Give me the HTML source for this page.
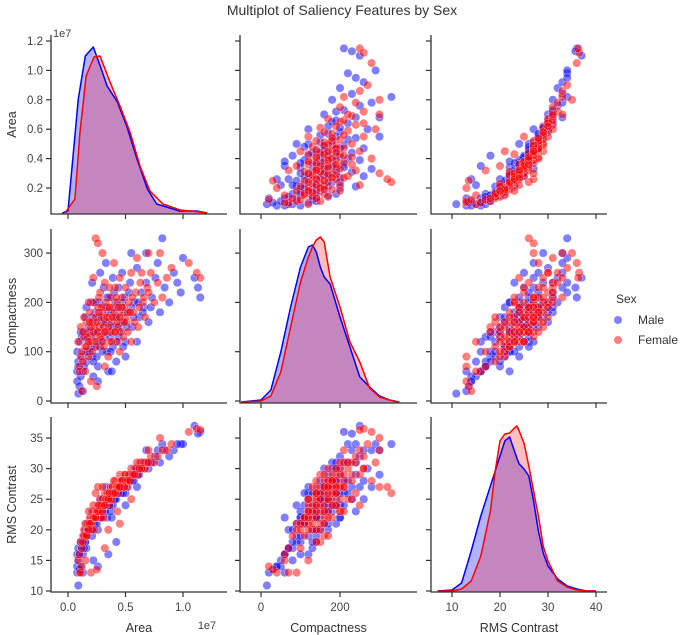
<!DOCTYPE html>
<html><head><meta charset="utf-8">
<style>
html,body{margin:0;padding:0;background:#fff;}
svg{display:block;font-family:"Liberation Sans",Arial,sans-serif;}
</style></head>
<body>
<svg id="chart" width="685" height="635" viewBox="0 0 685 635" xmlns="http://www.w3.org/2000/svg">
<text x="342" y="15" text-anchor="middle" font-size="14" fill="#333">Multiplot of Saliency Features by Sex</text>
<g id="panels"></g>
<g>
<text x="616" y="303" font-size="12" fill="#333">Sex</text>
<circle cx="618" cy="320" r="4" fill="rgba(0,0,255,0.5)"/>
<text x="638" y="324" font-size="12" fill="#333">Male</text>
<circle cx="618" cy="340" r="4" fill="rgba(255,0,0,0.5)"/>
<text x="638" y="344" font-size="12" fill="#333">Female</text>
</g>
</svg>
<script>
// ---- data: area (x1e6), compactness, rms contrast ----
const maleArea=[0.9,0.8,0.8,0.9,0.8,0.9,1.0,1.1,1.2,1.2,1.3,1.4,1.5,1.5,1.6,1.7,1.8,1.9,2.0,2.0,2.1,2.2,2.3,2.4,2.5,2.6,2.7,2.8,2.9,3.0,3.1,3.2,3.3,3.4,3.5,3.6,3.7,3.8,3.9,4.0,4.1,4.2,4.3,4.4,4.5,4.6,4.7,4.8,4.9,5.0,5.2,5.4,5.6,5.8,6.0,6.2,6.4,6.6,6.8,7.0,7.3,7.6,8.0,8.4,8.8,9.2,9.8,10.0,11.0,11.5,11.3,1.0,1.3,2.2,2.6,3.5,4.2,1.1,1.6,2.1,2.8,3.3,5.5,6.8,7.8,9.5,8.2,5.0,6.0,3.8];
const maleComp=[15,60,40,80,100,70,120,50,90,130,60,140,100,170,80,120,150,100,200,130,90,160,110,180,140,70,200,150,120,170,230,140,190,100,160,210,130,180,250,150,200,120,170,230,140,190,260,160,210,120,180,240,150,200,270,170,220,190,240,160,210,250,180,230,200,260,220,290,250,210,230,30,20,50,40,60,80,140,190,240,260,280,300,300,280,240,330,90,120,60];
const maleRms=[10.9,13,14,15,16,17,16,14,18,17,16,19,18,20,17,19,20,21,22,20,19,21,21,23,22,20,24,22,23,24,25,23,25,22,25,26,24,26,27,25,26,25,27,27,26,28,28,27,28,26,28,29,28,30,30,29,31,30,31,30,31,32,31,33,32,33,34,34,37,36,35.7,13.5,13,15,14,16,18,18,21,23,25,27,29,33,33,34,34,24,27,22];
const maleArea2=[2.0,2.3,2.6,2.9,3.2,3.5,3.8,4.1,4.4,4.7,2.1,2.5,3.0,3.4,3.9,4.2,4.6,5.1,5.5,6.1,1.7,1.9,2.4,2.7,3.1,3.6,4.0,4.8,5.3,6.5,1.5,2.2,2.8,3.3,3.7,4.3,4.9,5.7,7.2,1.4];
const maleComp2=[110,140,120,160,130,180,150,170,130,200,170,90,100,210,110,190,160,150,190,200,100,140,200,170,190,140,220,110,220,180,130,80,110,160,100,150,180,170,190,70];
const maleRms2=[21,22,22,23,23,24,25,25,26,27,21,21,22,24,24,26,26,27,28,29,19,20,22,23,24,24,26,26,28,30,18,20,22,24,23,26,27,28,31,17];
const femaleArea=[1.0,1.1,0.9,1.0,1.2,1.1,1.3,1.4,1.5,1.6,1.7,1.8,1.9,2.0,2.1,2.2,2.3,2.4,2.5,2.6,2.7,2.8,2.9,3.0,3.1,3.2,3.3,3.4,3.5,3.6,3.7,3.8,3.9,4.0,4.1,4.2,4.3,4.4,4.5,4.6,4.7,4.8,4.9,5.0,5.1,5.3,5.5,5.7,5.9,6.1,6.3,6.5,6.7,6.9,7.2,7.5,7.8,8.2,8.6,9.0,10.5,11.2,11.5,8.0,2.4,2.6,3.0,1.5,2.0,2.5,1.2,3.2,4.5,1.8,2.2,4.0,6.0,7.0,3.5,5.5,1.4,2.7,3.6,4.3,5.2,6.4,2.3,3.1,1.7,2.9];
const femaleComp=[70,90,120,60,100,150,80,130,110,160,140,90,180,120,160,200,130,170,110,190,150,220,130,180,160,240,140,190,170,120,210,160,190,140,230,170,200,150,250,180,210,130,190,230,160,200,260,180,220,150,240,200,170,230,260,200,240,210,250,270,280,260,250,300,330,320,300,60,40,30,20,70,100,200,250,280,290,300,90,120,170,210,230,120,180,260,150,110,130,170];
const femaleRms=[13,13,15,16,17,18,19,20,21,19,20,21,22,21,22,23,22,23,22,24,23,25,24,25,24,26,25,26,25,24,27,26,27,26,28,27,27,26,29,28,28,27,29,29,28,29,30,29,30,29,31,30,30,31,32,31,32,33,33,34,36,36.5,36.3,35,26,27,27,15,13,13.5,14,17,21,23,24,28,31,33,20,25,19,23,25,23,27,30,20,22,21,22];
const femaleArea2=[2.2,2.5,2.8,3.1,3.4,3.7,4.0,4.3,4.6,5.0,2.0,2.4,2.9,3.3,3.8,4.2,4.7,5.2,5.6,6.2,1.6,1.9,2.6,3.0,3.5,3.9,4.4,4.9,5.4,6.6,1.3,2.1,2.7,3.2,3.6,4.1,4.5,5.8,7.0,1.8];
const femaleComp2=[140,160,130,150,170,140,180,160,140,170,150,120,190,200,120,210,190,140,210,190,110,160,140,120,150,170,190,160,180,210,140,100,180,140,190,140,170,160,220,120];
const femaleRms2=[22,23,23,24,25,25,26,27,27,28,21,22,24,25,25,27,28,28,29,30,19,21,23,23,25,26,27,27,28,31,18,20,24,24,26,26,27,29,31,20];
// KDE curves (density, arbitrary units)
const kdeAreaXMale=[-0.5,0,0.2,0.9,1.5,2.2,2.8,3.4,4.3,5.1,6.0,6.9,7.7,9.7,11.2,12.1];
const kdeAreaMale=[0,2,27,114,157,166,147,127,111,87,54,24,9,2,2,0];
const kdeAreaXFemale=[-0.26,0.6,1.04,1.57,2.26,2.78,3.65,4.52,5.39,6.26,7.13,8.26,9.74,11.5,12.1];
const kdeAreaFemale=[0,14,81,137,156,157,131,107,81,47,22,9,3,1,0];
const kdeCompX=[-50,0,25,50,75,100,120,130,140,150,160,175,200,225,250,275,300,325,350];
const kdeCompMale=[0,2,12,50,95,135,155,157,150,135,125,118,85,55,25,15,6,2,0];
const kdeCompFemale=[0,1,6,30,75,120,145,155,162,165,160,125,95,60,40,14,5,2,0];
const kdeRmsX=[7,10,12,14,16,18,19,20,21,22,23,23.5,24,25,26,27,28,29,30,32,34,36,38,40];
const kdeRmsMale=[0,1,8,40,75,105,120,135,150,154,140,133,127,122,115,90,60,38,25,12,5,2,0,0];
const kdeRmsFemale=[0,0,2,10,35,80,120,150,157,158,163,165,160,148,125,100,75,45,30,10,4,1,0,0];
const xTicksArea=[0,0.5,1.0], xTicksComp=[0,200], xTicksRms=[10,20,30,40];
const yTicksArea=[0.2,0.4,0.6,0.8,1.0,1.2], yTicksComp=[0,100,200,300], yTicksRms=[10,15,20,25,30,35];

// ---- axis functions ----
const cols=[{l:51,r:227},{l:240,r:417},{l:431,r:607}];
const rows=[{t:35,b:214},{t:229,b:403},{t:417,b:592}];
const xs=[v=>68+v*11.5, v=>261+v*0.395, v=>452+(v-10)*4.8];
const ys=[v=>217.4-v*14.7, v=>401-v*0.493, v=>591-(v-10)*6.12];
const NS="http://www.w3.org/2000/svg";
const root=document.getElementById('panels');
function mk(tag,attrs,parent){const e=document.createElementNS(NS,tag);for(const k in attrs)e.setAttribute(k,attrs[k]);(parent||root).appendChild(e);return e;}
const vars=[[maleArea.concat(maleArea2),femaleArea.concat(femaleArea2)],[maleComp.concat(maleComp2),femaleComp.concat(femaleComp2)],[maleRms.concat(maleRms2),femaleRms.concat(femaleRms2)]];
const kdes=[[kdeAreaXMale,kdeAreaMale,kdeAreaXFemale,kdeAreaFemale],[kdeCompX,kdeCompMale,kdeCompX,kdeCompFemale],[kdeRmsX,kdeRmsMale,kdeRmsX,kdeRmsFemale]];
const xT=[xTicksArea.map(v=>v*10),xTicksComp,xTicksRms], xTL=[["0.0","0.5","1.0"],["0","200"],["10","20","30","40"]];
const yT=[yTicksArea.map(v=>v*10),yTicksComp,yTicksRms], yTL=[["0.2","0.4","0.6","0.8","1.0","1.2"],["0","100","200","300"],["10","15","20","25","30","35"]];
const names=["Area","Compactness","RMS Contrast"];
const slug=["area","compactness","rms-contrast"];
for(let r=0;r<3;r++)for(let c=0;c<3;c++){
  const g=mk('g',{});
  
  
  const C=cols[c],R=rows[r];
  if(r===c){
    const [kxm,km,kxf,kf]=kdes[c];
    [[kxm,km,'0,0,255',0.3],[kxf,kf,'255,0,0',0.25]].forEach(([kx,d,col,al],i)=>{
      let p='M'+xs[c](kx[0])+','+R.b;
      kx.forEach((x,j)=>{p+=' L'+xs[c](x).toFixed(1)+','+(R.b-1-d[j]).toFixed(1);});
      p+=' L'+xs[c](kx[kx.length-1])+','+R.b+' Z';
      const a=mk('path',{d:p,fill:'rgba('+col+','+al+')',stroke:'none'},g);
      
      
    });
    [[kxm,km,'0,0,255'],[kxf,kf,'255,0,0']].forEach(([kx,d,col],i)=>{
      let q='';kx.forEach((x,j)=>{q+=(j?' L':'M')+xs[c](x).toFixed(1)+','+(R.b-1-d[j]).toFixed(1);});
      const l=mk('path',{d:q,fill:'none',stroke:'rgb('+col+')','stroke-width':1.5,'stroke-linejoin':'round'},g);
      
      
    });
  } else {
    [[0,'rgba(0,0,255,0.5)'],[1,'rgba(255,0,0,0.5)']].forEach(([s,col])=>{
      const X=vars[c][s],Y=vars[r][s];
      for(let i=0;i<X.length;i++){
        const p=mk('circle',{cx:xs[c](X[i]).toFixed(1),cy:ys[r](Y[i]).toFixed(1),r:4.2,fill:col,stroke:'rgba(255,255,255,0.6)','stroke-width':0.5},g);
        
        
      }
    });
  }
  const sp=mk('path',{d:`M${C.l},${R.t} L${C.l},${R.b} L${C.r},${R.b}`,fill:'none',stroke:'#333','stroke-width':1.3},g);
  
  
  xT[c].forEach((v,i)=>{
    const x=xs[c](v);
    mk('line',{x1:x,y1:R.b,x2:x,y2:R.b+5,stroke:'#333','stroke-width':1.2},g);
    if(r===2){const t=mk('text',{x:x,y:R.b+19,'text-anchor':'middle','font-size':11.5,fill:'#444'},g);t.textContent=xTL[c][i];
      
      }
  });
  yT[r].forEach((v,i)=>{
    const y=ys[r](v);
    mk('line',{x1:C.l-5,y1:y,x2:C.l,y2:y,stroke:'#333','stroke-width':1.2},g);
    if(c===0){const t=mk('text',{x:C.l-8,y:y+4,'text-anchor':'end','font-size':11.5,fill:'#444'},g);t.textContent=yTL[r][i];
      
      }
  });
}
for(let i=0;i<3;i++){
  const t=mk('text',{x:(cols[i].l+cols[i].r)/2,y:632,'text-anchor':'middle','font-size':12.5,fill:'#333'});
  t.textContent=names[i];
  
  
  const cy=(rows[i].t+rows[i].b)/2;
  const u=mk('text',{x:0,y:0,transform:`translate(16,${cy}) rotate(-90)`,'text-anchor':'middle','font-size':12.5,fill:'#333'});
  u.textContent=names[i];
  
  
}
const o1=mk('text',{x:53,y:37,'font-size':11,fill:'#444'});o1.textContent='1e7';


const o2=mk('text',{x:207,y:629,'font-size':11,fill:'#444','text-anchor':'middle'});o2.textContent='1e7';


</script>
</body></html>
